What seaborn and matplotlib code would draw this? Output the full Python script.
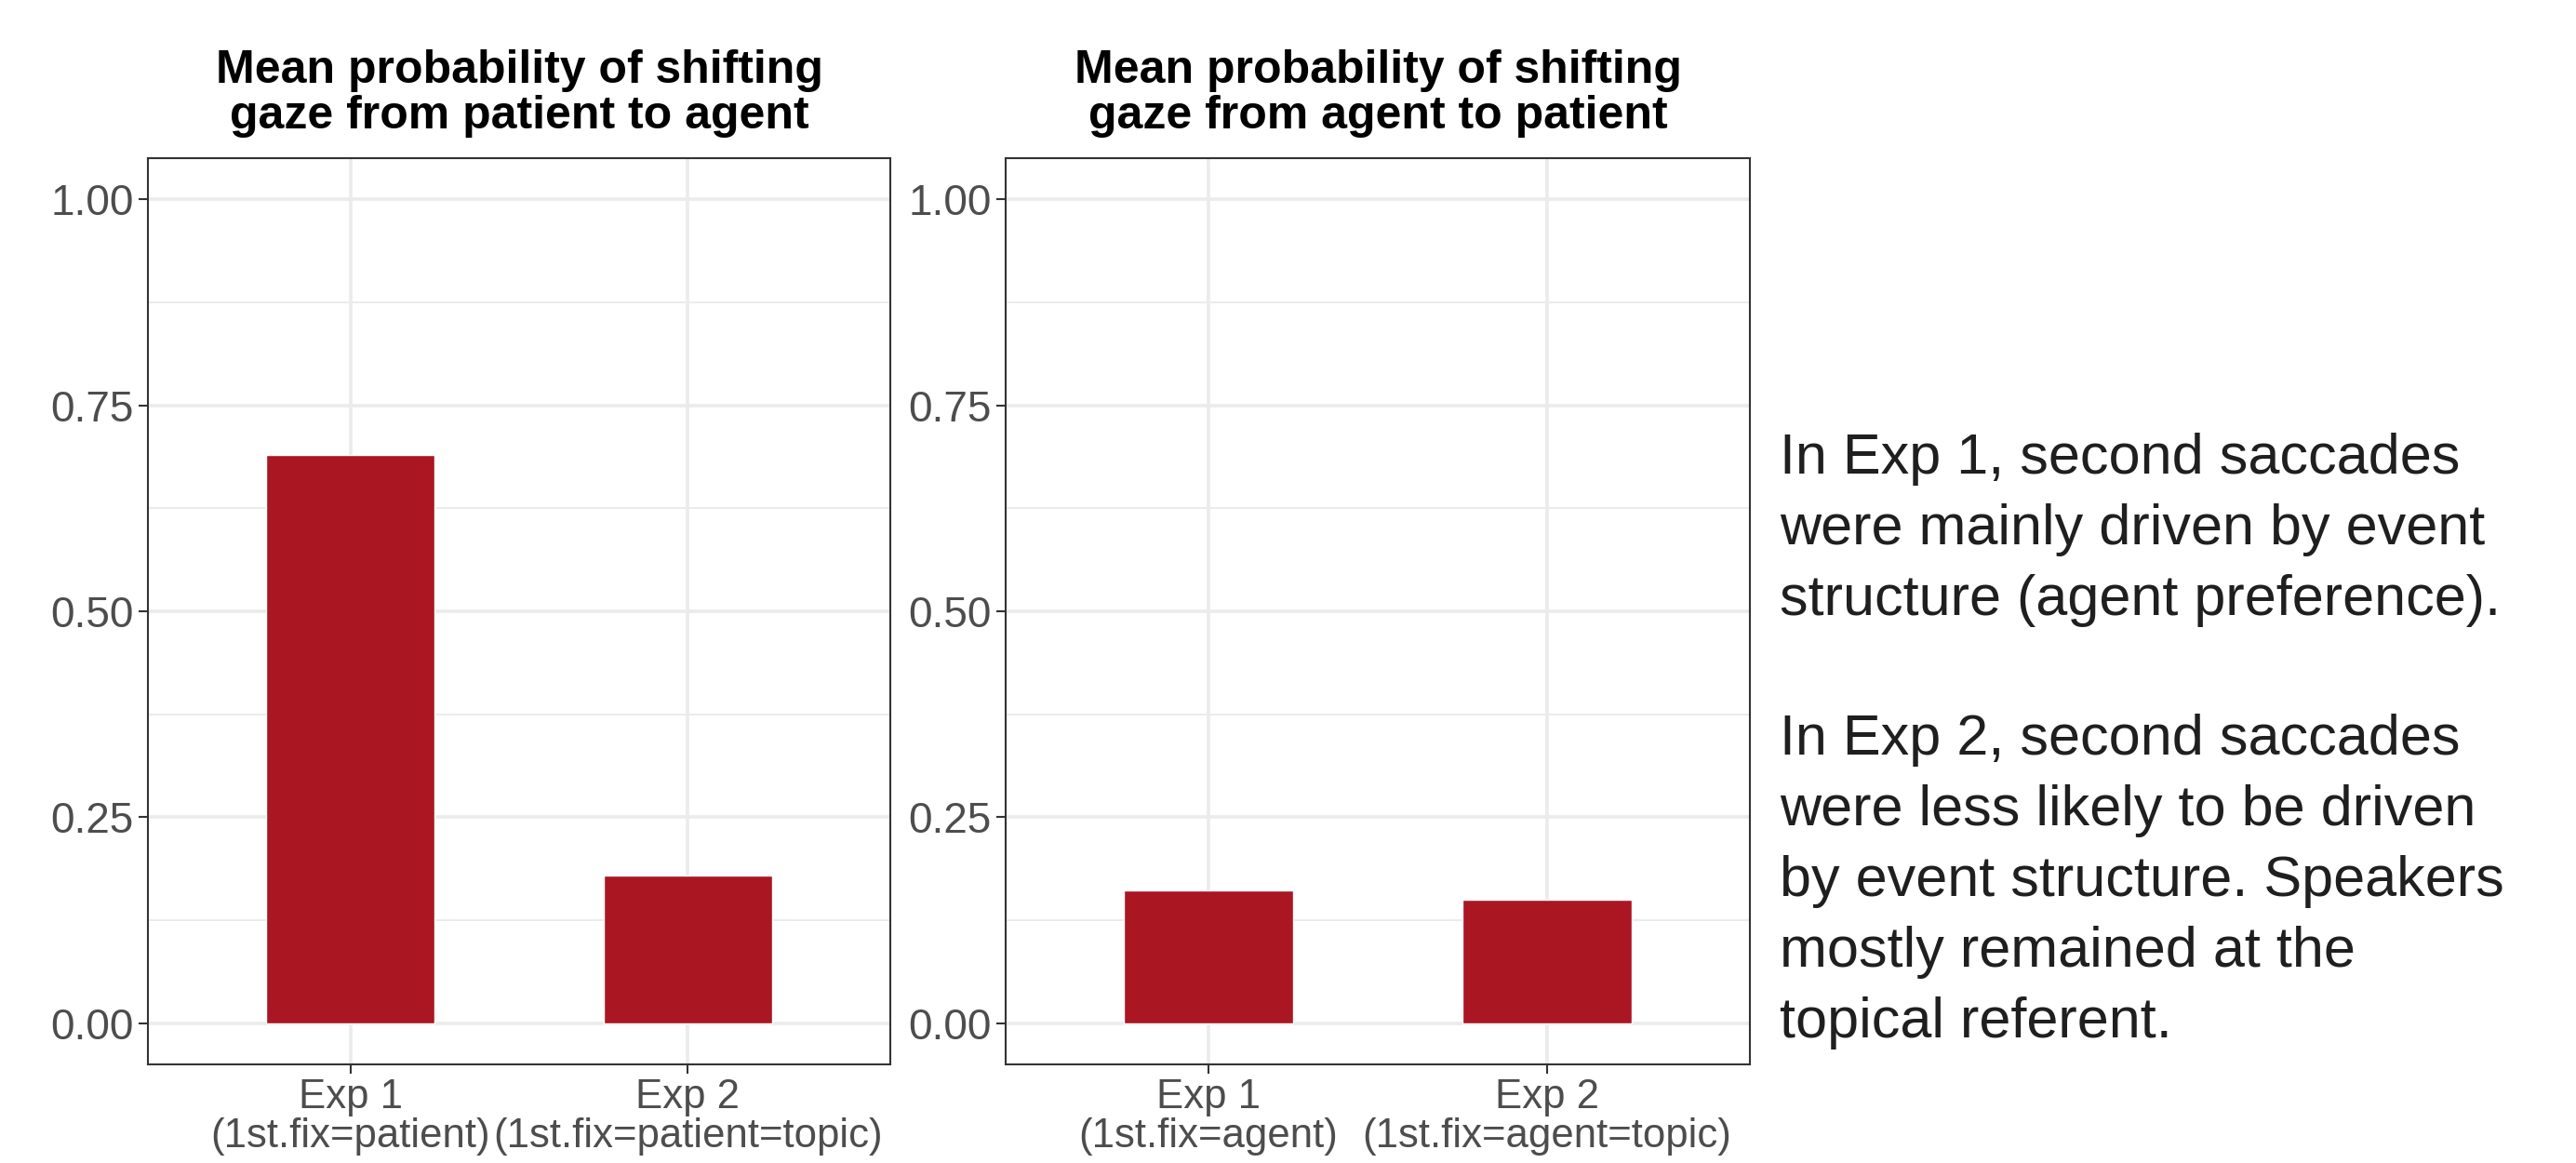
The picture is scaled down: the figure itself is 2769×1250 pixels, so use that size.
import matplotlib
matplotlib.use("Agg")
import matplotlib.pyplot as plt
from matplotlib.ticker import FixedLocator
import seaborn as sns
import pandas as pd

# ---- data ----
titles = ["Mean probability of shifting\ngaze from patient to agent",
          "Mean probability of shifting\ngaze from agent to patient"]
labels_p2a = ["Exp 1\n(1st.fix=patient)", "Exp 2\n(1st.fix=patient=topic)"]
values_p2a = [0.69, 0.179]
labels_a2p = ["Exp 1\n(1st.fix=agent)", "Exp 2\n(1st.fix=agent=topic)"]
values_a2p = [0.161, 0.150]
y_ticks = [0.0, 0.25, 0.50, 0.75, 1.00]
y_minor = [0.125, 0.375, 0.625, 0.875]
note_para1 = ["In Exp 1, second saccades",
              "were mainly driven by event",
              "structure (agent preference)."]
note_para2 = ["In Exp 2, second saccades",
              "were less likely to be driven",
              "by event structure. Speakers",
              "mostly remained at the",
              "topical referent."]

BAR = "#AB1623"
GRID = "#EBEBEB"
DARK = "#333333"
TICKTXT = "#4D4D4D"

sns.set_theme(style="white")
plt.rcParams['font.family'] = ['Liberation Sans', 'DejaVu Sans']

W, H = 2769, 1250
fig = plt.figure(figsize=(W / 100, H / 100), dpi=100)
fig.patch.set_facecolor("white")

panels = [
    (159, 957, titles[0], labels_p2a, values_p2a),
    (1081, 1881, titles[1], labels_a2p, values_a2p),
]
top, bottom = 170, 1144
for left, right, title, labels, values in panels:
    ax = fig.add_axes([left / W, 1 - bottom / H, (right - left) / W, (bottom - top) / H])
    df = pd.DataFrame({"cond": labels, "prob": values})
    sns.barplot(data=df, x="cond", y="prob", color=BAR, saturation=1, width=0.5,
                ax=ax, zorder=3)
    ax.set_xlim(-0.6, 1.6)
    ax.set_ylim(-0.05, 1.05)
    ax.set_yticks(y_ticks)
    ax.set_yticklabels([f"{v:.2f}" for v in y_ticks])
    ax.yaxis.set_minor_locator(FixedLocator(y_minor))
    ax.set_axisbelow(True)
    ax.grid(True, which="major", color=GRID, linewidth=2.6, zorder=0)
    ax.grid(True, which="minor", axis="y", color=GRID, linewidth=1.4, zorder=0)
    ax.set_xlabel("")
    ax.set_ylabel("")
    for s in ax.spines.values():
        s.set_visible(True)
        s.set_color(DARK)
        s.set_linewidth(1.5)
    ax.tick_params(axis="both", which="major", length=7, width=1.5, color=DARK,
                   labelcolor=TICKTXT, labelsize=33, pad=4, left=True, bottom=True)
    ax.tick_params(axis="x", which="major", labelsize=31.5)
    ax.tick_params(axis="y", which="minor", length=0)
    for t in ax.get_xticklabels():
        t.set_linespacing(1.02)
    ax.set_title(title, fontsize=36, fontweight="bold", color="black",
                 linespacing=1.08, pad=23)

x0 = 1913
for i, line in enumerate(note_para1):
    fig.text(x0 / W, 1 - (509 + 76 * i) / H, line, fontsize=44, color="#1f1f1f",
             va="baseline", ha="left")
for i, line in enumerate(note_para2):
    fig.text(x0 / W, 1 - (811 + 76 * i) / H, line, fontsize=44, color="#1f1f1f",
             va="baseline", ha="left")

fig.savefig("out.png", dpi=100, facecolor="white")
